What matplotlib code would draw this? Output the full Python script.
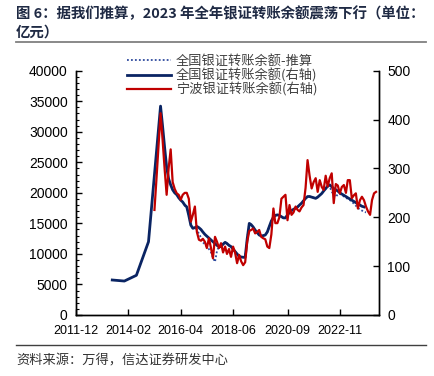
import matplotlib
matplotlib.use('Agg')
import matplotlib.pyplot as plt
from matplotlib.ticker import MultipleLocator
from matplotlib.lines import Line2D
import pandas as pd

plt.rcParams['font.family'] = ['Liberation Sans', 'Noto Sans CJK SC', 'DejaVu Sans']

# ---------------- data ----------------
title_line1 = "图 6：据我们推算，2023 年全年银证转账余额震荡下行（单位："
title_line2 = "亿元）"
source_text = "资料来源：万得，信达证券研发中心"
label_est = "全国银证转账余额-推算"
label_nat = "全国银证转账余额(右轴)"
label_nb = "宁波银证转账余额(右轴)"

x_tick_labels = ["2011-12", "2014-02", "2016-04", "2018-06", "2020-09", "2022-11"]

# national balance (left axis, 亿元)
nat_early_months = ["2013-06", "2013-12", "2014-06", "2014-12"]
nat_early_values = [5730, 5560, 6500, 12000]
nat_monthly_start = "2015-06"
nat_monthly_values = [
    34200, 31000, 27500, 24200, 22300, 21300, 20500, 20000, 19700, 19200,
    18800, 18500, 18000, 17700, 16300, 14700, 14200, 14300, 14500, 14300,
    14000, 13600, 13200, 12900, 12600, 12300, 12000, 11700, 11400, 11200,
    11200, 11600, 11900, 11700, 11400, 11200, 10800, 10400, 10000, 9600,
    9500, 9450, 9450, 12500, 15000, 14800, 14400, 13900, 13500, 13100,
    12950, 13000, 13100, 13600, 14500, 15400, 16000, 16300, 16400, 16300,
    16100, 15900, 15900, 16400, 16800, 17100, 17300, 17500, 17700, 18000,
    18300, 18700, 19100, 19400, 19400, 19300, 19200, 19100, 19300, 19600,
    19900, 20300, 20700, 21100, 21300, 21000, 20700, 20500, 20300, 20000,
    19800, 19600, 19400, 19200, 19000, 18800, 18600, 18400, 18200, 18000,
    17800, 17700,
]

# estimated national balance (left axis, dotted)
est_start = "2016-06"
est_values = [
    18000, 17500, 16200, 14800, 14200, 14200, 14000, 13300, 12700, 11900,
    11600, 11200, 10800, 10300, 9400, 8700, 10500, 11200, 11200, 11600,
    11900, 11700, 11400, 11200, 10800, 10400, 10000, 9600, 9500, 9450,
    9450, 12500, 15000, 14800, 14400, 13900, 13500, 13100, 12950, 13000,
    13100, 13600, 14500, 15400, 16000, 16300, 16400, 16300, 16100, 15900,
    15900, 16400, 16800, 17100, 17300, 17500, 17700, 18000, 18300, 18700,
    19100, 19400, 19400, 19300, 19200, 19100, 19300, 19600, 19900, 20300,
    20700, 21100, 21000, 20200, 19700, 19300, 19800, 19800, 19700, 19400,
    19200, 19000, 18800, 18600, 18200, 17900, 17500, 17300, 17100, 16900,
    16800,
]

# Ningbo balance (right axis)
nb_start = "2015-03"
nb_values = [
    215, 280, 345, 413, 360, 300, 246, 300, 339, 272,
    258, 249, 246, 236, 246, 250, 250, 238, 191, 205,
    222, 170, 154, 152, 156, 150, 137, 157, 138, 116,
    160, 150, 137, 147, 128, 140, 125, 135, 119, 140,
    128, 106, 123, 110, 102, 108, 150, 172, 174, 177,
    167, 170, 174, 160, 157, 155, 140, 137, 165, 218,
    188, 188, 200, 238, 242, 246, 194, 225, 205, 210,
    222, 215, 212, 220, 225, 260, 317, 285, 259, 272,
    280, 252, 276, 262, 256, 285, 263, 280, 290, 229,
    268, 265, 249, 262, 266, 250, 276, 276, 239, 245,
    249, 218, 235, 242, 235, 222, 212, 205, 235, 249, 252,
]

# ---------------- dates ----------------
def months(start, n):
    return pd.period_range(start, periods=n, freq='M').to_timestamp()

nat_dates = list(pd.PeriodIndex(nat_early_months, freq='M').to_timestamp()) + \
    list(months(nat_monthly_start, len(nat_monthly_values)))
nat_vals = nat_early_values + nat_monthly_values
est_dates = months(est_start, len(est_values))
nb_dates = months(nb_start, len(nb_values))
x_ticks = pd.PeriodIndex(x_tick_labels, freq='M').to_timestamp()

# ---------------- figure ----------------
W, H = 435, 376
fig = plt.figure(figsize=(W / 100, H / 100), dpi=100)
ax = fig.add_axes([76 / W, 61 / H, 303 / W, 244.3 / H])
ax2 = ax.twinx()

navy = '#0A2463'
red = '#C00000'
dot_blue = '#2E4A9E'

l_est, = ax.plot(est_dates, est_values, ls=(0, (1, 1.2)), color=dot_blue, lw=1.3, zorder=2)
l_nat, = ax.plot(nat_dates, nat_vals, color=navy, lw=2.0, zorder=3)
l_nb, = ax2.plot(nb_dates, nb_values, color=red, lw=1.6)

ax.set_xlim(pd.Timestamp('2011-12-01'), pd.Timestamp('2024-06-15'))
ax.set_ylim(0, 40000)
ax2.set_ylim(0, 500)
ax.yaxis.set_major_locator(MultipleLocator(5000))
ax.yaxis.set_minor_locator(MultipleLocator(1000))
ax2.yaxis.set_major_locator(MultipleLocator(100))
ax.set_xticks(x_ticks)
ax.set_xticklabels(x_tick_labels)

for a in (ax, ax2):
    a.spines['top'].set_visible(False)
    for s in a.spines.values():
        s.set_linewidth(1.0)
        s.set_color('black')
ax.tick_params(axis='y', which='major', direction='in', length=4, width=1, labelsize=10, pad=6)
ax.tick_params(axis='y', which='minor', direction='in', length=2, width=0.8)
ax.tick_params(axis='x', which='major', direction='in', length=4, width=1, labelsize=9, pad=7)
ax2.tick_params(axis='y', which='major', direction='in', length=4, width=1, labelsize=10, pad=6)

for lab in ax.get_xticklabels() + ax.get_yticklabels() + ax2.get_yticklabels():
    lab.set_fontfamily(['Liberation Sans', 'DejaVu Sans'])

leg = fig.legend([l_est, l_nat, l_nb], [label_est, label_nat, label_nb],
                 loc='upper left', bbox_to_anchor=(127 / W, 1 - 55 / H),
                 frameon=False, handlelength=3.3, handletextpad=0.4,
                 labelspacing=0.02, borderpad=0, borderaxespad=0,
                 prop={'family': ['Noto Sans CJK SC', 'DejaVu Sans'], 'size': 9.5})
for t in leg.get_texts():
    t.set_color('#404040')

# title
title_color = '#1F2A44'
fig.text(16 / W, 1 - 14 / H, title_line1, fontsize=10.4, fontweight='bold',
         color=title_color, va='center', ha='left',
         family=['Noto Sans CJK SC', 'DejaVu Sans'])
fig.text(16 / W, 1 - 33 / H, title_line2, fontsize=10.4, fontweight='bold',
         color=title_color, va='center', ha='left',
         family=['Noto Sans CJK SC', 'DejaVu Sans'])
fig.add_artist(Line2D([16 / W, 426 / W], [1 - 42 / H, 1 - 42 / H], color='#808080', lw=1.3))
fig.add_artist(Line2D([16 / W, 426 / W], [1 - 345 / H, 1 - 345 / H], color='#404040', lw=1.0))
fig.text(16 / W, 1 - 361 / H, source_text, fontsize=9.5, color='#333333',
         va='center', ha='left', family=['Noto Sans CJK SC', 'DejaVu Sans'])

fig.savefig('out.png', dpi=100)
